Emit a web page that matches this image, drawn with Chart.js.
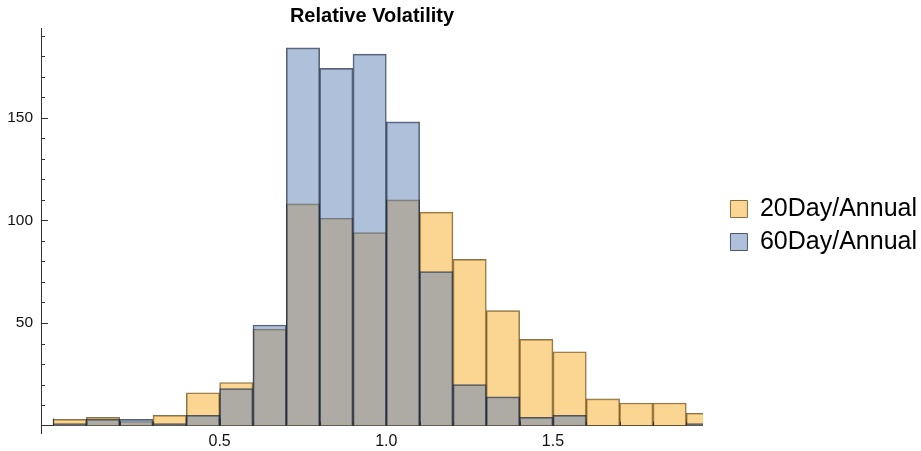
<!DOCTYPE html>
<html lang="en">
<head>
  <meta charset="UTF-8" />
  <title>Relative Volatility</title>
  <style>
    html, body {
      margin: 0;
      padding: 0;
      background: #ffffff;
    }
    #wrap {
      width: 921px;
      height: 451px;
    }
  </style>
</head>
<body>
  <div id="wrap"><canvas id="grafico" width="921" height="451"></canvas></div>

  <script src="https://cdn.jsdelivr.net/npm/chart.js"></script>
  <script>
    // bin centres (bins are 0.1 wide)
    const binCenters = [0.05, 0.15, 0.25, 0.35, 0.45, 0.55, 0.65, 0.75, 0.85, 0.95,
                        1.05, 1.15, 1.25, 1.35, 1.45, 1.55, 1.65, 1.75, 1.85, 1.95];
    const vol20 = [3, 4, 2, 5, 16, 21, 47, 108, 101, 94, 110, 104, 81, 56, 42, 36, 13, 11, 11, 6];
    const vol60 = [1, 3, 3, 1, 5, 18, 49, 184, 174, 181, 148, 75, 20, 14, 4, 5, 0, 0, 0, 1];
    const seriesNames = ['20Day/Annual', '60Day/Annual'];
    const xTickLabels = [0.5, 1.0, 1.5];
    const yTickLabels = [50, 100, 150];

    const fonte = '"Liberation Sans", Arial, sans-serif';

    // marcas de escala para dentro, como no original
    const ticksInternos = {
      id: 'ticksInternos',
      afterDatasetsDraw(chart) {
        const ctx = chart.ctx;
        const xs = chart.scales.x, ys = chart.scales.y;
        const x0 = chart.chartArea.left;
        const y0 = ys.getPixelForValue(0);
        ctx.save();
        ctx.strokeStyle = '#333';
        ctx.lineWidth = 1;
        ctx.beginPath();
        for (let v = 10; v <= ys.max; v += 10) {
          const p = Math.round(ys.getPixelForValue(v)) + 0.5;
          const len = v % 50 === 0 ? 7 : 4;
          ctx.moveTo(x0, p);
          ctx.lineTo(x0 + len, p);
        }
        for (let k = 0; k <= 19; k++) {
          const v = k / 10;
          const p = Math.round(xs.getPixelForValue(v)) + 0.5;
          const len = k % 5 === 0 ? 7 : 4;
          ctx.moveTo(p, y0);
          ctx.lineTo(p, y0 - len);
        }
        ctx.stroke();
        ctx.restore();
      }
    };

    new Chart(document.getElementById('grafico'), {
      type: 'bar',
      data: {
        datasets: [
          {
            label: seriesNames[0],
            data: binCenters.map((c, i) => ({ x: c, y: vol20[i] })),
            backgroundColor: 'rgba(247,173,37,0.5)',
            borderColor: 'rgba(80,55,10,0.7)',
            borderWidth: 1,
            order: 1
          },
          {
            label: seriesNames[1],
            data: binCenters.map((c, i) => ({ x: c, y: vol60[i] })),
            backgroundColor: 'rgba(95,129,181,0.5)',
            borderColor: 'rgba(20,30,50,0.7)',
            borderWidth: 1,
            order: 0
          }
        ]
      },
      options: {
        responsive: false,
        animation: false,
        grouped: false,
        barPercentage: 1,
        categoryPercentage: 1,
        layout: { padding: { top: 0, right: -6, bottom: 0, left: 0 } },
        scales: {
          x: {
            type: 'linear',
            position: { y: 0 },
            offset: false,
            min: -0.036,
            max: 1.95,
            grid: { display: false, drawTicks: false, offset: false },
            border: { display: true, color: '#333', width: 1 },
            afterBuildTicks: s => { s.ticks = xTickLabels.map(v => ({ value: v })); },
            ticks: {
              padding: 6,
              color: '#111',
              font: { family: fonte, size: 16 },
              callback: v => v.toFixed(1)
            }
          },
          y: {
            type: 'linear',
            position: 'left',
            min: -3.6,
            max: 193.7,
            grid: { display: false, drawTicks: false },
            border: { display: true, color: '#333', width: 1 },
            afterBuildTicks: s => { s.ticks = yTickLabels.map(v => ({ value: v })); },
            afterFit: s => { s.width = 41; },
            ticks: {
              padding: 8,
              color: '#111',
              font: { family: fonte, size: 15.5 }
            }
          },
          gapRight: {
            type: 'linear',
            position: 'right',
            display: true,
            grid: { display: false, drawTicks: false },
            border: { display: false },
            ticks: { display: false },
            afterFit: s => { s.width = 19.5; }
          },
          gapBottom: {
            type: 'linear',
            axis: 'x',
            position: 'bottom',
            display: true,
            grid: { display: false, drawTicks: false },
            border: { display: false },
            ticks: { display: false },
            afterFit: s => { s.height = 18; }
          }
        },
        plugins: {
          title: {
            display: true,
            text: 'Relative Volatility',
            fullSize: false,
            color: '#000',
            font: { family: fonte, size: 20, weight: 'bold', lineHeight: 1.2 },
            padding: { top: 4, bottom: 0 }
          },
          legend: {
            position: 'right',
            maxWidth: 320,
            labels: {
              boxWidth: 17,
              boxHeight: 17,
              padding: 8,
              color: '#000',
              font: { family: fonte, size: 25 },
              sort: (a, b) => a.datasetIndex - b.datasetIndex
            }
          },
          tooltip: { enabled: false }
        }
      },
      plugins: [ticksInternos]
    });
  </script>
</body>
</html>
